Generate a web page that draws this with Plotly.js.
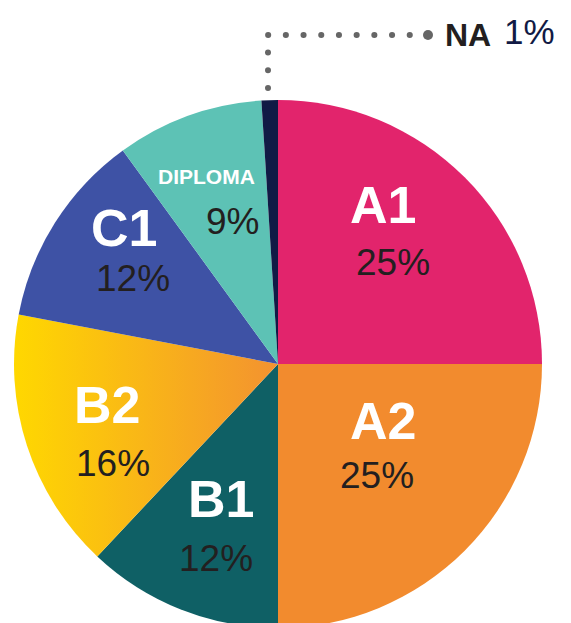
<!DOCTYPE html>
<html>
<head>
<meta charset="utf-8">
<script src="https://cdn.plot.ly/plotly-3.0.1.min.js"></script>
<style>
html,body{margin:0;padding:0;overflow:hidden;background:#fff;}
#chart{width:571px;height:640px;}
</style>
</head>
<body>
<div id="chart"></div>
<script>
// Data
const labels = ["A1", "A2", "B1", "B2", "C1", "DIPLOMA", "NA"];
const values = [25, 25, 12, 16, 12, 9, 1];
const colors = ["#E2246C", "#F28B2E", "#0F6065", "#F9B820", "#3E52A5", "#5DC2B5", "#111A45"];

const W = 571, H = 640;
const px = x => x / W;
const py = y => (H - y) / H;

const FONT = '"Liberation Sans", Arial, sans-serif';

// label/percent text positions (pixel centres)
const labelPos = [[383,205],[383,421],[221,499],[107,405],[124,228],[206,176],[468,35]];
const pctPos   = [[393,262],[377,475],[216,558],[113,463],[133,278],[232,221],[529,31]];
const labelSize = [52, 52, 52, 52, 52, 21, 32];
const pctSize   = [37, 37, 37, 37, 37, 37, 35];

const annotations = [];
labels.forEach((lab, i) => {
  const isNA = lab === "NA";
  annotations.push({
    xref: 'paper', yref: 'paper', x: px(labelPos[i][0]), y: py(labelPos[i][1]),
    xanchor: 'center', yanchor: 'middle', showarrow: false, borderpad: 0,
    text: '<b>' + lab + '</b>',
    font: {family: FONT, size: labelSize[i], color: isNA ? '#231F20' : '#FFFFFF'}
  });
  annotations.push({
    xref: 'paper', yref: 'paper', x: px(pctPos[i][0]), y: py(pctPos[i][1]),
    xanchor: 'center', yanchor: 'middle', showarrow: false, borderpad: 0,
    text: values[i] + '%',
    font: {family: FONT, size: pctSize[i], color: isNA ? '#111A45' : '#231F20'}
  });
});

const shapes = [
  {type: 'path', xref: 'paper', yref: 'paper',
   path: `M ${px(268)} ${py(88)} L ${px(268)} ${py(35)} L ${px(420)} ${py(35)}`,
   line: {color: '#666666', width: 6, dash: '0.1px,17.6px'}},
  {type: 'circle', xref: 'paper', yref: 'paper',
   x0: px(423), x1: px(433), y0: py(40), y1: py(30),
   fillcolor: '#666666', line: {width: 0}}
];

const trace = {
  type: 'pie',
  labels: labels,
  values: values,
  sort: false,
  direction: 'clockwise',
  rotation: 0,
  textinfo: 'none',
  hoverinfo: 'none',
  marker: {colors: colors, line: {width: 0}},
  domain: {x: [px(14), px(542)], y: [py(628), py(100)]},
  showlegend: false
};

const layout = {
  width: W, height: H,
  margin: {l: 0, r: 0, t: 0, b: 0},
  paper_bgcolor: '#ffffff',
  showlegend: false,
  annotations: annotations,
  shapes: shapes
};

Plotly.newPlot('chart', [trace], layout, {staticPlot: true, displayModeBar: false}).then(gd => {
  const svg = gd.querySelector('svg.main-svg');
  const ns = 'http://www.w3.org/2000/svg';
  let defs = svg.querySelector('defs');
  if (!defs) { defs = document.createElementNS(ns, 'defs'); svg.insertBefore(defs, svg.firstChild); }
  const grad = document.createElementNS(ns, 'linearGradient');
  grad.setAttribute('id', 'b2grad');
  grad.setAttribute('x1', '0'); grad.setAttribute('y1', '0');
  grad.setAttribute('x2', '1'); grad.setAttribute('y2', '0');
  [['0', '#FFD800'], ['1', '#F39230']].forEach(([o, c]) => {
    const s = document.createElementNS(ns, 'stop');
    s.setAttribute('offset', o); s.setAttribute('stop-color', c);
    grad.appendChild(s);
  });
  defs.appendChild(grad);
  const slices = gd.querySelectorAll('g.slice path.surface');
  const idx = labels.indexOf('B2');
  if (slices[idx]) slices[idx].style.fill = 'url(#b2grad)';
  gd.querySelectorAll('.shapelayer path').forEach(p => { p.style.strokeLinecap = 'round'; });
});
</script>
</body>
</html>
